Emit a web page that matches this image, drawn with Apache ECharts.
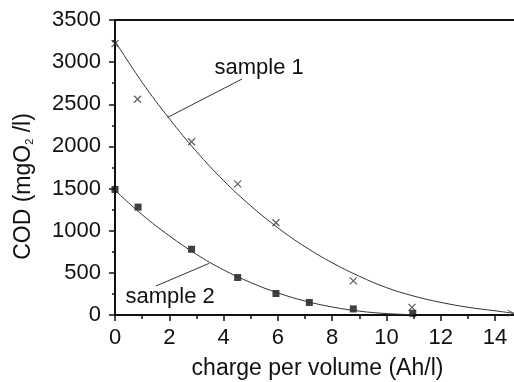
<!DOCTYPE html>
<html>
<head>
<meta charset="utf-8">
<script src="https://cdn.jsdelivr.net/npm/echarts@6/dist/echarts.min.js"></script>
<style>
html,body{margin:0;padding:0;background:#fff;}
#c{width:514px;height:382px;}
</style>
</head>
<body>
<div id="c"></div>
<script>
// ---- data ----
const sample1X = [0, 0.83, 2.82, 4.52, 5.93, 8.78, 10.94];
const sample1Y = [3220, 2560, 2055, 1555, 1095, 405, 90];
const sample2X = [0, 0.85, 2.82, 4.52, 5.93, 7.16, 8.78, 10.97];
const sample2Y = [1490, 1280, 780, 445, 255, 148, 72, 20];

const fit1X = [0, 1, 2, 3, 4, 5, 6, 7, 8, 9, 10, 11, 12, 13, 14, 14.65];
const fit1Y = [3250, 2760, 2330, 1940, 1595, 1295, 1035, 810, 620, 460, 325, 225, 150, 92, 50, 22];
const fit2X = [0, 1, 2, 3, 4, 5, 6, 7, 8, 9, 10, 11];
const fit2Y = [1480, 1190, 940, 720, 535, 385, 262, 166, 95, 46, 17, 3];

const xMajorTicks = [0, 2, 4, 6, 8, 10, 12, 14];
const xMinorTicks = [1, 3, 5, 7, 9, 11, 13];
const yTicks = [0, 500, 1000, 1500, 2000, 2500, 3000, 3500];

const xTitle = 'charge per volume (Ah/l)';
const yTitleMain = 'COD (mgO';
const yTitleSub = '2';
const yTitleEnd = ' /l)';

const label1Text = 'sample 1';
const label1Pos = [5.31, 2930];
const leader1 = [[1.94, 2345], [4.68, 2800]];
const label2Text = 'sample 2';
const label2Pos = [2.03, 214];
const leader2 = [[1.51, 344], [3.47, 613]];

// ---- chart ----
const FONT = 'Liberation Sans, Arial, Helvetica, sans-serif';
const TXT = '#111';
const AX = '#111';
const chart = echarts.init(document.getElementById('c'), null, {renderer: 'canvas'});

const zip = (xs, ys) => xs.map((x, i) => [x, ys[i]]);

const xRange = {min: 0, max: 14.7};
const yRange = {min: yTicks[0], max: yTicks[yTicks.length - 1]};

chart.setOption({
  animation: false,
  backgroundColor: '#fff',
  grid: {left: 115, right: 0, top: 20, bottom: 67, containLabel: false},
  xAxis: [
    {
      type: 'value', min: xRange.min, max: xRange.max, position: 'bottom',
      axisLine: {show: true, onZero: false, lineStyle: {color: AX, width: 2}},
      axisTick: {show: true, length: 6, lineStyle: {color: AX, width: 1.5}, customValues: xMajorTicks},
      axisLabel: {show: true, fontSize: 22, fontFamily: FONT, color: TXT, margin: 12, customValues: xMajorTicks,
                  formatter: v => String(v)},
      splitLine: {show: false}
    },
    {
      type: 'value', min: xRange.min, max: xRange.max, position: 'bottom',
      axisLine: {show: false},
      axisTick: {show: true, length: 4, lineStyle: {color: AX, width: 1.5}, customValues: xMinorTicks},
      axisLabel: {show: false},
      splitLine: {show: false}
    },
    {
      type: 'value', min: xRange.min, max: xRange.max, position: 'top',
      axisLine: {show: true, onZero: false, lineStyle: {color: AX, width: 2}},
      axisTick: {show: false}, axisLabel: {show: false}, splitLine: {show: false}
    }
  ],
  yAxis: {
    type: 'value', min: yRange.min, max: yRange.max, interval: 500,
    axisLine: {show: true, onZero: false, lineStyle: {color: AX, width: 2}},
    axisTick: {show: true, length: 6, lineStyle: {color: AX, width: 1.5}},
    minorTick: {show: true, splitNumber: 2, length: 3, lineStyle: {color: AX, width: 1.5}},
    axisLabel: {fontSize: 22, fontFamily: FONT, color: TXT, margin: 14, formatter: v => String(v)},
    splitLine: {show: false}
  },
  series: [
    {
      type: 'line', name: 'fit 1', data: zip(fit1X, fit1Y), smooth: 0.4,
      showSymbol: false, lineStyle: {color: '#333', width: 1}, silent: true,
      markLine: {
        silent: true, symbol: 'none', label: {show: false},
        lineStyle: {color: '#333', width: 1, type: 'solid'},
        data: [
          [{coord: leader1[0]}, {coord: leader1[1]}],
          [{coord: leader2[0]}, {coord: leader2[1]}]
        ]
      }
    },
    {
      type: 'line', name: 'fit 2', data: zip(fit2X, fit2Y), smooth: 0.4,
      showSymbol: false, lineStyle: {color: '#333', width: 1}, silent: true
    },
    {
      type: 'scatter', name: 'arrow', clip: false, silent: true,
      data: [[fit1X[fit1X.length - 1], fit1Y[fit1Y.length - 1]]],
      symbol: 'path://M0,0L8,5L0,10', symbolSize: [6, 6], symbolOffset: [-2, 0],
      itemStyle: {color: 'none', borderColor: '#333', borderWidth: 1}
    },
    {
      type: 'scatter', name: 'sample 1', data: zip(sample1X, sample1Y), clip: false,
      symbol: 'path://M0,0L10,10M10,0L0,10', symbolSize: 7,
      itemStyle: {color: 'none', borderColor: '#333', borderWidth: 1.2}
    },
    {
      type: 'scatter', name: 'sample 2', data: zip(sample2X, sample2Y), clip: false,
      symbol: 'rect', symbolSize: 7,
      itemStyle: {color: '#111'}
    }
  ]
});

function place() {
  const p1 = chart.convertToPixel({gridIndex: 0}, label1Pos);
  const p2 = chart.convertToPixel({gridIndex: 0}, label2Pos);
  chart.setOption({
    graphic: [
      {type: 'text', x: p1[0], y: p1[1], silent: true,
       style: {text: label1Text, fontSize: 22, fontFamily: FONT, fill: TXT, align: 'center', verticalAlign: 'middle'}},
      {type: 'text', x: p2[0], y: p2[1], silent: true,
       style: {text: label2Text, fontSize: 22, fontFamily: FONT, fill: TXT, align: 'center', verticalAlign: 'middle'}},
      {type: 'text', x: 317.5, y: 368.5, silent: true,
       style: {text: xTitle, fontSize: 23, fontFamily: FONT, fill: TXT, align: 'center', verticalAlign: 'middle'}},
      {type: 'text', x: 24, y: 186.5, rotation: Math.PI / 2, silent: true,
       style: {
         text: '{m|' + yTitleMain + '}{s|' + yTitleSub + '}{m|' + yTitleEnd + '}',
         align: 'center', verticalAlign: 'middle',
         rich: {
           m: {fontSize: 23, fontFamily: FONT, fill: TXT, color: TXT, height: 26, verticalAlign: 'middle'},
           s: {fontSize: 11, fontFamily: FONT, fill: TXT, color: TXT, height: 26, verticalAlign: 'bottom', padding: [12, 0, 0, 0]}
         }
       }}
    ]
  });
}
place();
</script>
</body>
</html>
